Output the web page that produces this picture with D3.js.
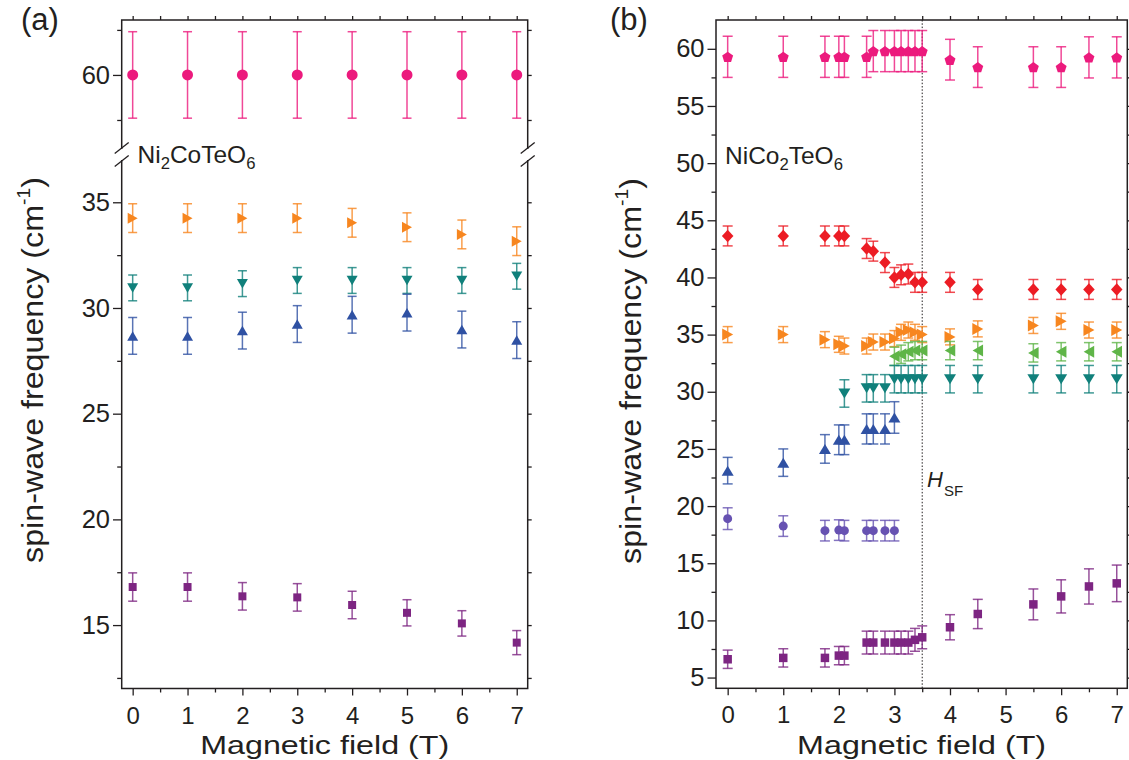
<!DOCTYPE html>
<html><head><meta charset="utf-8">
<script src="https://cdn.jsdelivr.net/npm/d3@7/dist/d3.min.js"></script>
<style>body{margin:0;background:#fff}</style>
</head><body>
<svg id="c" width="1129" height="760"></svg>
<script>
// ---------------- DATA ----------------
// Panel (a): Ni2CoTeO6
const fieldA = [0, 1, 2, 3, 4, 5, 6, 7];
const a_pink    = [60, 60, 60, 60, 60, 60, 60, 60];
const a_pinkErr = [1.92, 1.92, 1.92, 1.92, 1.92, 1.92, 1.92, 1.92];
const a_orange    = [34.25, 34.25, 34.25, 34.25, 34.03, 33.82, 33.48, 33.16];
const a_orangeErr = [0.68, 0.68, 0.68, 0.68, 0.68, 0.68, 0.68, 0.68];
const a_teal    = [30.95, 30.95, 31.15, 31.3, 31.3, 31.3, 31.3, 31.5];
const a_tealErr = [0.61, 0.61, 0.61, 0.61, 0.61, 0.61, 0.61, 0.61];
const a_blue    = [28.68, 28.68, 28.93, 29.24, 29.68, 29.78, 28.98, 28.48];
const a_blueErr = [0.87, 0.87, 0.87, 0.87, 0.87, 0.87, 0.87, 0.87];
const a_purple    = [16.8, 16.8, 16.36, 16.31, 15.95, 15.58, 15.08, 14.17];
const a_purpleErr = [0.67, 0.67, 0.65, 0.65, 0.65, 0.62, 0.6, 0.57];

// Panel (b): NiCo2TeO6
const fieldB = [0, 1, 1.75, 2, 2.1, 2.5, 2.62, 2.83, 3, 3.12, 3.25, 3.37, 3.5, 4, 4.5, 5.5, 6, 6.5, 7];
const b_pink    = [59.3, 59.3, 59.3, 59.3, 59.3, 59.3, 59.8, 59.8, 59.8, 59.8, 59.8, 59.8, 59.8, 59.05, 58.4, 58.4, 58.4, 59.25, 59.25];
const b_pinkErr = [1.8, 1.8, 1.8, 1.8, 1.8, 1.8, 1.8, 1.8, 1.8, 1.8, 1.8, 1.8, 1.8, 1.78, 1.78, 1.78, 1.78, 1.8, 1.8];
const b_red    = [43.63, 43.63, 43.63, 43.63, 43.63, 42.53, 42.3, 41.3, 40.0, 40.23, 40.3, 39.57, 39.57, 39.57, 38.95, 38.95, 38.95, 38.95, 38.95];
const b_redErr = [0.87, 0.87, 0.87, 0.87, 0.87, 0.87, 0.87, 0.87, 0.87, 0.87, 0.87, 0.87, 0.87, 0.87, 0.87, 0.87, 0.87, 0.87, 0.87];
const b_orange    = [35.0, 35.0, 34.56, 34.15, 34.0, 34.0, 34.35, 34.35, 34.65, 35.2, 35.4, 35.2, 35.0, 34.8, 35.5, 35.8, 36.16, 35.4, 35.4];
const b_orangeErr = [0.7, 0.7, 0.7, 0.7, 0.7, 0.7, 0.7, 0.7, 0.7, 0.7, 0.7, 0.7, 0.7, 0.7, 0.7, 0.7, 0.7, 0.7, 0.7];
const fieldGreen = [3, 3.12, 3.25, 3.37, 3.5, 4, 4.5, 5.5, 6, 6.5, 7];
const b_green    = [33.1, 33.28, 33.5, 33.6, 33.6, 33.6, 33.6, 33.4, 33.5, 33.5, 33.5];
const b_greenErr = [0.8, 0.8, 0.8, 0.8, 0.8, 0.8, 0.8, 0.8, 0.8, 0.8, 0.8];
const fieldTeal = [2.1, 2.5, 2.62, 2.83, 3, 3.12, 3.25, 3.37, 3.5, 4, 4.5, 5.5, 6, 6.5, 7];
const b_teal    = [29.85, 30.3, 30.3, 30.3, 31.1, 31.1, 31.1, 31.1, 31.1, 31.1, 31.1, 31.1, 31.1, 31.1, 31.1];
const b_tealErr = [1.2, 1.2, 1.2, 1.2, 1.2, 1.2, 1.2, 1.2, 1.2, 1.2, 1.2, 1.2, 1.2, 1.2, 1.2];
const fieldLow = [0, 1, 1.75, 2, 2.1, 2.5, 2.62, 2.83, 3];
const b_blue    = [23.1, 23.8, 25.0, 25.8, 25.8, 26.75, 26.75, 26.75, 27.75];
const b_blueErr = [1.16, 1.2, 1.25, 1.3, 1.3, 1.32, 1.32, 1.32, 1.38];
const b_circle    = [18.9, 18.25, 17.85, 17.9, 17.85, 17.85, 17.85, 17.85, 17.85];
const b_circleErr = [0.95, 0.9, 0.9, 0.9, 0.9, 0.9, 0.9, 0.9, 0.9];
const b_square    = [6.6, 6.72, 6.72, 6.92, 6.92, 8.06, 8.06, 8.06, 8.06, 8.06, 8.06, 8.3, 8.52, 9.4, 10.56, 11.4, 12.1, 12.97, 13.24];
const b_squareErr = [0.8, 0.8, 0.8, 0.8, 0.8, 1.0, 1.0, 1.0, 1.0, 1.0, 1.0, 1.0, 1.0, 1.1, 1.28, 1.35, 1.45, 1.54, 1.6];

const fieldTicks = [0, 1, 2, 3, 4, 5, 6, 7];
const aLowTicks = [15, 20, 25, 30, 35];
const aUpTicks = [60];
const bTicks = [5, 10, 15, 20, 25, 30, 35, 40, 45, 50, 55, 60];
const H_SF = 3.5;

// ---------------- STYLE ----------------
const FONT = '"Liberation Sans", Arial, Helvetica, sans-serif';
const INK = '#231f20';
const C = {
  pink: '#ec1a7d', orange: '#f7861f', teal: '#10807b', blue: '#2f51a3',
  purple: '#7d2582', red: '#ec1c24', green: '#5fb548', indigo: '#6752b2'
};

const svg = d3.select('#c');

function shapePath(type, w, h) {
  const p = d3.path();
  if (type === 'up') { p.moveTo(0, -h/2); p.lineTo(w/2, h/2); p.lineTo(-w/2, h/2); }
  else if (type === 'down') { p.moveTo(0, h/2); p.lineTo(w/2, -h/2); p.lineTo(-w/2, -h/2); }
  else if (type === 'right') { p.moveTo(w/2, 0); p.lineTo(-w/2, -h/2); p.lineTo(-w/2, h/2); }
  else if (type === 'left') { p.moveTo(-w/2, 0); p.lineTo(w/2, -h/2); p.lineTo(w/2, h/2); }
  else if (type === 'diamond') { p.moveTo(0, -h/2); p.lineTo(w/2, 0); p.lineTo(0, h/2); p.lineTo(-w/2, 0); }
  else if (type === 'square') { p.rect(-w/2, -h/2, w, h); }
  else if (type === 'circle') { p.arc(0, 0, w/2, 0, 2*Math.PI); }
  else if (type === 'pentagon') {
    const r = w/2;
    for (let i = 0; i < 5; i++) {
      const a = -Math.PI/2 + i * 2*Math.PI/5;
      const px = r*Math.cos(a), py = r*Math.sin(a) + r*0.1;
      if (i === 0) p.moveTo(px, py); else p.lineTo(px, py);
    }
  }
  p.closePath();
  return p.toString();
}

function drawSeries(g, xs, ys, es, xS, yS, type, w, h, color, capW) {
  const data = xs.map((x, i) => ({x, y: ys[i], e: es[i]}));
  const eg = g.append('g').attr('stroke', color).attr('stroke-width', 1.5).attr('stroke-opacity', 0.8).attr('fill', 'none');
  data.forEach(d => {
    const cx = xS(d.x), y1 = yS(d.y + d.e), y2 = yS(d.y - d.e);
    eg.append('line').attr('x1', cx).attr('x2', cx).attr('y1', y1).attr('y2', y2);
    eg.append('line').attr('x1', cx - capW/2).attr('x2', cx + capW/2).attr('y1', y1).attr('y2', y1);
    eg.append('line').attr('x1', cx - capW/2).attr('x2', cx + capW/2).attr('y1', y2).attr('y2', y2);
  });
  g.append('g').selectAll('path').data(data).join('path')
    .attr('d', shapePath(type, w, h))
    .attr('transform', d => `translate(${xS(d.x)},${yS(d.y)})`)
    .attr('fill', color);
}

function styleAxis(sel, fs) {
  sel.select('.domain').remove();
  sel.selectAll('line').attr('stroke', INK).attr('stroke-width', 1.3);
  sel.selectAll('text').attr('fill', INK).style('font-family', FONT).style('font-size', fs + 'px');
}

function halfSteps(lo, hi, step) {
  const out = [];
  for (let v = Math.ceil(lo/step)*step; v <= hi + 1e-9; v += step) out.push(+v.toFixed(4));
  return out;
}

const fmt = d3.format('d');
const TICK_FS = 25.5;
const XTICK_FS = 24;
const XPAD = 11;

// ---------------- PANEL (a) ----------------
const xA = d3.scaleLinear().domain([-0.2, 7.2]).range([121.7, 527.7]);
const yLow = d3.scaleLinear().domain([12.0, 37.0]).range([688.5, 160]);
const yUp = d3.scaleLinear().domain([56.8, 62.44]).range([147, 20]);
const A = { l: 121.7, r: 527.7, t: 20, b: 688.5, brkHi: 149, brkLo: 160 };

const gA = svg.append('g');
const xMinorA = halfSteps(-0.2, 7.2, 0.5).filter(v => v % 1 !== 0);
styleAxis(gA.append('g').attr('transform', `translate(0,${A.b})`)
  .call(d3.axisBottom(xA).tickValues(fieldTicks).tickSize(7).tickPadding(XPAD).tickFormat(fmt)), XTICK_FS);
styleAxis(gA.append('g').attr('transform', `translate(0,${A.b})`)
  .call(d3.axisBottom(xA).tickValues(xMinorA).tickSize(4).tickFormat('')), XTICK_FS);
styleAxis(gA.append('g').attr('transform', `translate(0,${A.t})`)
  .call(d3.axisTop(xA).tickValues(halfSteps(-0.2, 7.2, 0.5)).tickSize(4).tickFormat('')), TICK_FS);
const lowMinor = halfSteps(12, 37, 2.5).filter(v => v % 5 !== 0);
styleAxis(gA.append('g').attr('transform', `translate(${A.l},0)`)
  .call(d3.axisLeft(yLow).tickValues(aLowTicks).tickSize(8.7).tickPadding(3).tickFormat(fmt)), TICK_FS);
styleAxis(gA.append('g').attr('transform', `translate(${A.l},0)`)
  .call(d3.axisLeft(yLow).tickValues(lowMinor).tickSize(4.5).tickFormat('')), TICK_FS);
styleAxis(gA.append('g').attr('transform', `translate(${A.l},0)`)
  .call(d3.axisLeft(yUp).tickValues(aUpTicks).tickSize(8.7).tickPadding(3).tickFormat(fmt)), TICK_FS);
styleAxis(gA.append('g').attr('transform', `translate(${A.l},0)`)
  .call(d3.axisLeft(yUp).tickValues([58, 62]).tickSize(4.5).tickFormat('')), TICK_FS);
styleAxis(gA.append('g').attr('transform', `translate(${A.r},0)`)
  .call(d3.axisRight(yLow).tickValues(halfSteps(12, 37, 2.5)).tickSize(4).tickFormat('')), TICK_FS);
styleAxis(gA.append('g').attr('transform', `translate(${A.r},0)`)
  .call(d3.axisRight(yUp).tickValues([58, 60, 62]).tickSize(4).tickFormat('')), TICK_FS);

const fr = gA.append('g').attr('stroke', INK).attr('stroke-width', 1.5).attr('fill', 'none');
fr.append('path').attr('d', `M${A.l},${A.brkHi}V${A.t}H${A.r}V${A.brkHi}`);
fr.append('path').attr('d', `M${A.l},${A.brkLo}V${A.b}H${A.r}V${A.brkLo}`);
[A.l, A.r].forEach(x => {
  [A.brkHi - 1, A.brkLo + 1].forEach(y => {
    fr.append('line').attr('x1', x - 7).attr('y1', y + 5.5).attr('x2', x + 7).attr('y2', y - 5.5).attr('stroke-width', 1.3);
  });
});

drawSeries(gA, fieldA, a_pink, a_pinkErr, xA, yUp, 'circle', 11, 11, C.pink, 9);
drawSeries(gA, fieldA, a_orange, a_orangeErr, xA, yLow, 'right', 10, 11, C.orange, 9);
drawSeries(gA, fieldA, a_teal, a_tealErr, xA, yLow, 'down', 11, 9.5, C.teal, 9);
drawSeries(gA, fieldA, a_blue, a_blueErr, xA, yLow, 'up', 11, 9.5, C.blue, 9);
drawSeries(gA, fieldA, a_purple, a_purpleErr, xA, yLow, 'square', 8, 8, C.purple, 9);

// ---------------- PANEL (b) ----------------
const xB = d3.scaleLinear().domain([-0.21, 7.19]).range([716, 1127.3]);
const yB = d3.scaleLinear().domain([4.06, 62.52]).range([688.3, 20]);
const B = { l: 716, r: 1127.3, t: 20, b: 688.3 };
const gB = svg.append('g');
styleAxis(gB.append('g').attr('transform', `translate(0,${B.b})`)
  .call(d3.axisBottom(xB).tickValues(fieldTicks).tickSize(7).tickPadding(XPAD).tickFormat(fmt)), XTICK_FS);
styleAxis(gB.append('g').attr('transform', `translate(0,${B.b})`)
  .call(d3.axisBottom(xB).tickValues(halfSteps(-0.21, 7.19, 0.5).filter(v => v % 1 !== 0)).tickSize(4).tickFormat('')), XTICK_FS);
styleAxis(gB.append('g').attr('transform', `translate(0,${B.t})`)
  .call(d3.axisTop(xB).tickValues(halfSteps(-0.21, 7.19, 0.5)).tickSize(4).tickFormat('')), TICK_FS);
styleAxis(gB.append('g').attr('transform', `translate(${B.l},0)`)
  .call(d3.axisLeft(yB).tickValues(bTicks).tickSize(8.5).tickPadding(3).tickFormat(fmt)), TICK_FS);
const bMinor = halfSteps(4.06, 62.3, 2.5).filter(v => v % 5 !== 0);
styleAxis(gB.append('g').attr('transform', `translate(${B.l},0)`)
  .call(d3.axisLeft(yB).tickValues(bMinor).tickSize(4.5).tickFormat('')), TICK_FS);
styleAxis(gB.append('g').attr('transform', `translate(${B.r},0)`)
  .call(d3.axisRight(yB).tickValues(halfSteps(4.06, 62.3, 2.5)).tickSize(4).tickFormat('')), TICK_FS);
gB.append('rect').attr('x', B.l).attr('y', B.t).attr('width', B.r - B.l).attr('height', B.b - B.t)
  .attr('fill', 'none').attr('stroke', INK).attr('stroke-width', 1.5);

gB.append('line').attr('x1', xB(H_SF)).attr('x2', xB(H_SF)).attr('y1', B.t).attr('y2', B.b)
  .attr('stroke', INK).attr('stroke-width', 1).attr('stroke-dasharray', '1.5,1.8');

drawSeries(gB, fieldB, b_pink, b_pinkErr, xB, yB, 'pentagon', 11.5, 11.5, C.pink, 10);
drawSeries(gB, fieldB, b_red, b_redErr, xB, yB, 'diamond', 11.5, 12.5, C.red, 10);
drawSeries(gB, fieldB, b_orange, b_orangeErr, xB, yB, 'right', 11, 12, C.orange, 10);
drawSeries(gB, fieldGreen, b_green, b_greenErr, xB, yB, 'left', 10.5, 12, C.green, 10);
drawSeries(gB, fieldTeal, b_teal, b_tealErr, xB, yB, 'down', 12, 10, C.teal, 10);
drawSeries(gB, fieldLow, b_blue, b_blueErr, xB, yB, 'up', 12, 10, C.blue, 10);
drawSeries(gB, fieldLow, b_circle, b_circleErr, xB, yB, 'circle', 9, 9, C.indigo, 10);
drawSeries(gB, fieldB, b_square, b_squareErr, xB, yB, 'square', 8.5, 8.5, C.purple, 10);

// ---------------- TEXT ----------------
function label(x, y, str, fs, opts = {}) {
  return svg.append('text').attr('x', x).attr('y', y).text(str)
    .attr('fill', INK).style('font-family', FONT).style('font-size', fs + 'px')
    .attr('text-anchor', opts.anchor || 'start').style('font-style', opts.italic ? 'italic' : 'normal');
}
label(21, 30, '(a)', 31);
label(610, 30, '(b)', 31);

[324.7, 921.6].forEach(cx => {
  const t = label(cx, 754, 'Magnetic field (T)', 26.5);
  t.attr('text-anchor', 'middle');
  const s = 249 / t.node().getComputedTextLength();
  t.attr('transform', `translate(${cx},0) scale(${s},1) translate(${-cx},0)`);
});

function yTitle(cx, cy) {
  const g = svg.append('g').attr('transform', `translate(${cx},${cy}) rotate(-90)`);
  const t = g.append('text').attr('text-anchor', 'middle').attr('y', 0)
    .attr('fill', INK).style('font-family', FONT).style('font-size', '30px');
  t.append('tspan').text('spin-wave frequency (cm');
  t.append('tspan').text('-1').style('font-size', '18px').attr('dy', -13);
  t.append('tspan').text(')').attr('dy', 13);
  const w = t.node().getBBox().width;
  g.attr('transform', `translate(${cx},${cy}) rotate(-90) scale(${386 / w},1)`);
}
yTitle(43, 370);
yTitle(641, 371);

function formula(x, y, parts, fs) {
  const t = svg.append('text').attr('x', x).attr('y', y).attr('fill', INK)
    .style('font-family', FONT).style('font-size', fs + 'px');
  parts.forEach((p, i) => {
    const isSub = /^\d+$/.test(p);
    const ts = t.append('tspan').text(p);
    if (isSub) ts.style('font-size', (fs * 0.68) + 'px').attr('dy', 6);
    else if (i > 0) ts.attr('dy', -6);
  });
  return t;
}
formula(137.5, 163, ['Ni', '2', 'CoTeO', '6'], 24.5);
formula(725, 163.5, ['NiCo', '2', 'TeO', '6'], 24.5);

const hsf = svg.append('text').attr('x', 927).attr('y', 487).attr('fill', INK).style('font-family', FONT);
hsf.append('tspan').text('H').style('font-size', '22px').style('font-style', 'italic');
hsf.append('tspan').text('SF').style('font-size', '15px').attr('dy', 9).attr('dx', 1);
</script>
</body></html>
